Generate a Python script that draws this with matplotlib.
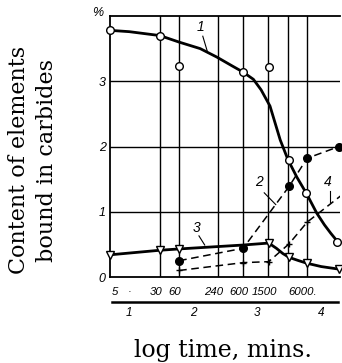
import numpy as np
import matplotlib
matplotlib.use("Agg")
import matplotlib.pyplot as plt

# ---- data (x values are log10 of time in minutes) ----
time_labels = ["5", "·", "30", "60", "240", "600", "1500", "6000."]
time_label_pos = [0.70, 1.06, 1.477, 1.778, 2.380, 2.778, 3.176, 3.778]
grid_times = [30, 60, 240, 600, 1500, 3000, 6000]
log_ticks = [1, 2, 3, 4]
y_ticks = [0, 1, 2, 3]

# curve 1 (open circles, solid)
c1_x = [0.70, 1.48, 1.78, 2.78, 3.18, 3.50, 3.77, 4.25]
c1_y = [3.78, 3.70, 3.24, 3.14, 3.22, 1.79, 1.28, 0.54]
c1_line_x = [0.70, 1.00, 1.48, 1.78, 2.11, 2.37, 2.60, 2.78, 2.94, 3.06,
             3.20, 3.36, 3.48, 3.62, 3.77, 3.93, 4.05, 4.15, 4.25]
c1_line_y = [3.78, 3.76, 3.70, 3.60, 3.50, 3.37, 3.24, 3.14, 3.03, 2.87,
             2.62, 2.10, 1.80, 1.53, 1.28, 0.98, 0.80, 0.67, 0.55]

# curve 2 (filled circles, dashed)
c2_x = [1.78, 2.78, 3.50, 3.78, 4.28]
c2_y = [0.25, 0.44, 1.39, 1.82, 2.00]

# curve 3 (open down-triangles, solid)
c3_x = [0.70, 1.48, 1.78, 3.18, 3.50, 3.78, 4.28]
c3_y = [0.34, 0.41, 0.43, 0.52, 0.30, 0.21, 0.12]
c3_line_x = [0.70, 1.48, 1.78, 2.78, 3.18, 3.30, 3.40, 3.50, 3.65, 3.78, 4.00, 4.28]
c3_line_y = [0.34, 0.41, 0.43, 0.49, 0.52, 0.44, 0.36, 0.30, 0.25, 0.21, 0.16, 0.12]

# curve 4 (crosses, dashed)
c4_x = [1.78, 2.78, 3.18, 3.50, 3.78, 4.30]
c4_y = [0.10, 0.22, 0.235, 0.51, 0.84, 1.24]

W, H = 342, 363
fig = plt.figure(figsize=(W / 100, H / 100), dpi=100)
ax = fig.add_axes([110 / W, 86 / H, 230 / W, 261 / H])
ax.set_xlim(0.70, 4.294)
ax.set_ylim(0, 4.0)

tick_font = dict(family=["Liberation Sans", "DejaVu Sans"], style="italic", size=9)

# grid
for t in grid_times:
    ax.axvline(np.log10(t), color="black", lw=1.0, zorder=1)
for yv in y_ticks[1:]:
    ax.axhline(yv, color="black", lw=1.0, zorder=1)

ax.spines["right"].set_visible(False)
for s in ["left", "top", "bottom"]:
    ax.spines[s].set_linewidth(1.3)

ax.set_xticks([])
ax.set_yticks(y_ticks)
ax.set_yticklabels([str(v) for v in y_ticks], **tick_font)
ax.tick_params(axis="y", length=0, pad=3)

ax.text(-0.055, 1.01, "%", transform=ax.transAxes, ha="center", va="center", **tick_font)

# upper time labels
xt = ax.get_xaxis_transform()
small = dict(tick_font, size=8.2)
for lbl, p in zip(time_labels, time_label_pos):
    if lbl == "5":
        ax.text(p + 0.03, -0.057, lbl, transform=xt, ha="left", va="center", **small)
    else:
        ax.text(p - 0.06, -0.057, lbl, transform=xt, ha="center", va="center", **small)

# lower log scale
ax.plot([0.73, 4.26], [-0.096, -0.096], transform=xt, color="black", lw=1.8, clip_on=False)
for v in log_ticks:
    ax.text(v, -0.138, str(v), transform=xt, ha="center", va="center",
            family=tick_font["family"], style="italic", size=8.5)

# curves
ax.plot(c1_line_x, c1_line_y, color="black", lw=2.0, zorder=3, clip_on=False)
ax.plot(c1_x, c1_y, "o", ms=5.5, mfc="white", mec="black", mew=1.0, zorder=5, clip_on=False)

ax.plot(c3_line_x, c3_line_y, color="black", lw=2.0, zorder=3, clip_on=False)
ax.plot(c3_x, c3_y, "v", ms=5.5, mfc="white", mec="black", mew=1.0, zorder=5, clip_on=False)

ax.plot(c2_x, c2_y, color="black", lw=1.1, ls=(0, (5, 3)), zorder=3, clip_on=False)
ax.plot(c2_x, c2_y, "o", ms=5.5, mfc="black", mec="black", zorder=5, clip_on=False)

ax.plot(c4_x, c4_y, color="black", lw=1.1, ls=(0, (5, 3)), zorder=3)
ax.plot(c4_x[:-1], c4_y[:-1], "+", ms=5, mec="black", mew=1.0, zorder=5)

# curve labels with leader lines
lab = dict(family=tick_font["family"], style="italic", size=10, ha="center", va="center")
for txt, tpos, l0, l1 in [("1", (2.11, 3.83), (2.15, 3.69), (2.22, 3.46)),
                          ("2", (3.03, 1.45), (3.11, 1.29), (3.29, 1.11)),
                          ("3", (2.06, 0.75), (2.09, 0.63), (2.18, 0.49)),
                          ("4", (4.11, 1.46), (4.14, 1.32), (4.14, 1.15))]:
    ax.text(tpos[0], tpos[1], txt, **lab)
    ax.plot([l0[0], l1[0]], [l0[1], l1[1]], color="black", lw=0.8)

# axis titles
title_font = dict(family="DejaVu Serif", weight="normal")
fig.text(19 / W, 1 - 160 / H, "Content of elements", rotation=90,
         ha="center", va="center", size=16, **title_font)
fig.text(47 / W, 1 - 160 / H, "bound in carbides", rotation=90,
         ha="center", va="center", size=16, **title_font)
fig.text(223 / W, 1 - 350 / H, "log time, mins.", ha="center", va="center",
         size=17, **title_font)

fig.savefig("out.png", dpi=100)
